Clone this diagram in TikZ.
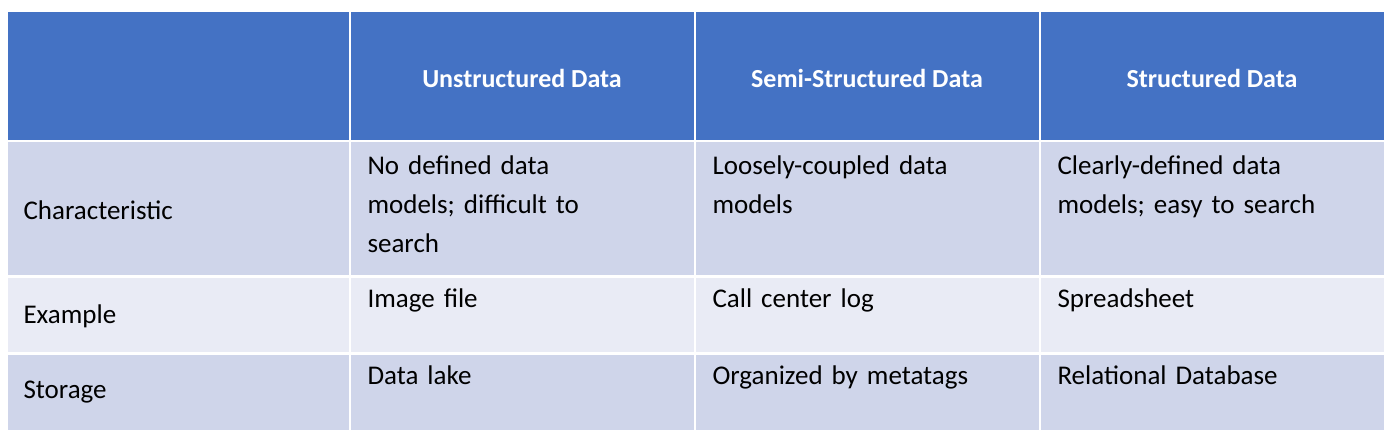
\documentclass[tikz,border=0pt]{standalone}
\usepackage{fontspec}
\setmainfont{Carlito}
\definecolor{headblue}{HTML}{4472C4}
\definecolor{rowdark}{HTML}{CFD5EA}
\definecolor{rowlight}{HTML}{E9EBF5}
\tikzset{
  cell/.style={draw=white,line width=2pt,anchor=north west,inner sep=0pt},
  headtxt/.style={text=white,font=\fontsize{26}{30}\selectfont\bfseries},
  bodytxt/.style={anchor=north west,align=left,text width=320pt,font=\fontsize{27}{39}\selectfont}
}
\begin{document}
\begin{tikzpicture}[x=1pt,y=-1pt]
\useasboundingbox (0,0) rectangle (1397,440);
% cells
\foreach \xa/\xb in {6.5/350,350/695,695/1040,1040/1385}{
  \fill[headblue] (\xa,11) rectangle (\xb,141);
  \fill[rowdark] (\xa,141) rectangle (\xb,276.5);
  \fill[rowlight] (\xa,276.5) rectangle (\xb,353.5);
  \fill[rowdark] (\xa,353.5) rectangle (\xb,431);
  \draw[white,line width=2.5pt] (\xa,11) rectangle (\xb,141);
  \draw[white,line width=2.5pt] (\xa,141) rectangle (\xb,276.5);
  \draw[white,line width=2.5pt] (\xa,276.5) rectangle (\xb,353.5);
  \draw[white,line width=2.5pt] (\xa,353.5) rectangle (\xb,431);
}
% header
\node[headtxt] (h1) at (522,78) {Unstructured Data};
\node[headtxt] (h2) at (867,78) {Semi-Structured Data};
\node[headtxt] (h3) at (1212,78) {Structured Data};
% first column
\node[bodytxt,anchor=west] (r1) at (20,210) {Characteristic};
\node[bodytxt,anchor=west] (r2) at (20,316) {Example};
\node[bodytxt,anchor=west] (r3) at (20,392) {Storage};
% body
\node[bodytxt] (c11) at (364,152) {No defined data\\models; difficult to\\search};
\node[bodytxt] (c12) at (709,152) {Loosely-coupled data\\models};
\node[bodytxt] (c13) at (1054,152) {Clearly-defined data\\models; easy to search};
\node[bodytxt] (c21) at (364,285) {Image file};
\node[bodytxt] (c22) at (709,285) {Call center log};
\node[bodytxt] (c23) at (1054,285) {Spreadsheet};
\node[bodytxt] (c31) at (364,362) {Data lake};
\node[bodytxt] (c32) at (709,362) {Organized by metatags};
\node[bodytxt] (c33) at (1054,362) {Relational Database};
\end{tikzpicture}
\end{document}
